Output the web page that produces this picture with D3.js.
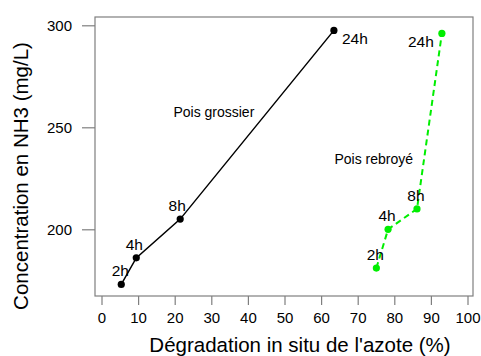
<!DOCTYPE html>
<meta charset="utf-8">
<head>
<title>Concentration NH3</title>
<script src="https://d3js.org/d3.v7.min.js"></script>
<style>
  body { margin: 0; background: #fff; }
  text { font-family: "Liberation Sans", Arial, sans-serif; fill: #000; }
  .tick text { font-size: 15px; }
  .ptlab { font-size: 15.5px; }
  .serie { font-size: 14px; }
  .axtitle { font-size: 20.5px; }
</style>
</head>
<body>
<div id="chart"></div>
<script>
// data
var heures = ["2h", "4h", "8h", "24h"];
var grossierX = [5.4, 9.5, 21.5, 63.5];
var grossierY = [173, 186, 205, 297.5];
var rebroyeX = [75.1, 78.3, 86.2, 93];
var rebroyeY = [181, 200, 210, 296];
var xTicks = [0, 10, 20, 30, 40, 50, 60, 70, 80, 90, 100];
var yTicks = [200, 250, 300];

var width = 481, height = 356;
var box = {left: 95, top: 17, right: 473, bottom: 296};

var svg = d3.select("#chart").append("svg")
    .attr("width", width)
    .attr("height", height);

var x = d3.scaleLinear().domain([0, 100]).range([101.5, 467.5]);
var y = d3.scaleLinear().domain([200, 300]).range([229.3, 25.3]);

// box
svg.append("rect")
    .attr("x", box.left).attr("y", box.top)
    .attr("width", box.right - box.left).attr("height", box.bottom - box.top)
    .attr("fill", "none").attr("stroke", "#7f7f7f").attr("stroke-width", 1.2);

// axes
var xAxis = svg.append("g")
    .attr("transform", "translate(0," + box.bottom + ")")
    .call(d3.axisBottom(x).tickValues(xTicks).tickSize(9).tickPadding(7));
var yAxis = svg.append("g")
    .attr("transform", "translate(" + box.left + ",0)")
    .call(d3.axisLeft(y).tickValues(yTicks).tickSize(13).tickPadding(10));
[xAxis, yAxis].forEach(function(a) {
  a.select(".domain").remove();
  a.selectAll(".tick line").attr("stroke", "#7f7f7f").attr("stroke-width", 1.2);
  a.selectAll(".tick text").attr("fill", "#000");
});

var line = d3.line().x(function(d) { return x(d[0]); }).y(function(d) { return y(d[1]); });

function serie(xs, ys, color, dash, labelDx, label24Dx, label24Anchor) {
  var pts = xs.map(function(v, i) { return [v, ys[i]]; });
  svg.append("path")
      .attr("d", line(pts))
      .attr("fill", "none")
      .attr("stroke", color)
      .attr("stroke-width", dash ? 2 : 1.5)
      .attr("stroke-dasharray", dash || null);
  svg.selectAll(null).data(pts).enter().append("circle")
      .attr("cx", function(d) { return x(d[0]); })
      .attr("cy", function(d) { return y(d[1]); })
      .attr("r", 3.6)
      .attr("fill", color);
  svg.selectAll(null).data(pts).enter().append("text")
      .attr("class", "ptlab")
      .attr("x", function(d, i) { return x(d[0]) + (i < 3 ? labelDx[i] : label24Dx); })
      .attr("y", function(d, i) { return y(d[1]) + (i < 3 ? -8 : 14); })
      .attr("text-anchor", function(d, i) { return i < 3 ? "middle" : label24Anchor; })
      .text(function(d, i) { return heures[i]; });
}

serie(grossierX, grossierY, "#000", null, [-1, -2, -3], 8, "start");
serie(rebroyeX, rebroyeY, "#00ee00", "6,4", [-1, -1, -1], -8, "end");

svg.append("text").attr("class", "serie")
    .attr("x", x(30.7)).attr("y", y(257.5) + 5)
    .attr("text-anchor", "middle").text("Pois grossier");
svg.append("text").attr("class", "serie")
    .attr("x", x(74.4)).attr("y", y(234.4) + 5)
    .attr("text-anchor", "middle").text("Pois rebroyé");

svg.append("text").attr("class", "axtitle")
    .attr("x", 300).attr("y", 352)
    .attr("text-anchor", "middle")
    .text("Dégradation in situ de l'azote (%)");
svg.append("text").attr("class", "axtitle")
    .attr("transform", "translate(28,176) rotate(-90)")
    .attr("text-anchor", "middle")
    .text("Concentration en NH3 (mg/L)");
</script>
</body>
